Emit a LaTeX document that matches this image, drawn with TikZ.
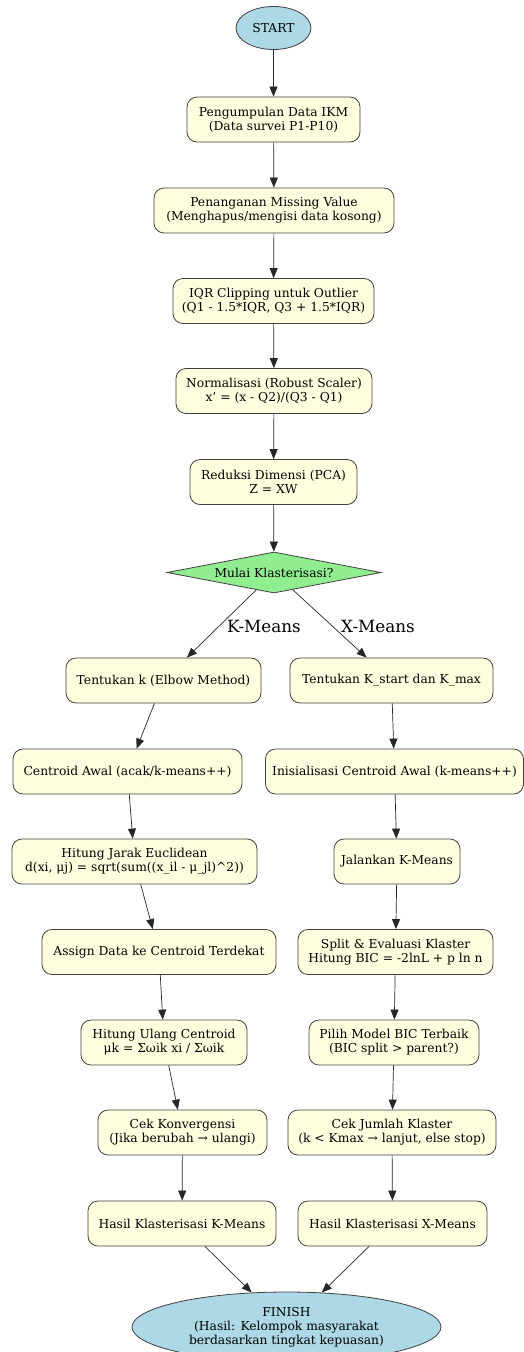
\documentclass[tikz,border=0pt]{standalone}
\usepackage{fontspec}
\setmainfont{DejaVu Serif}
\usetikzlibrary{shapes.geometric,arrows.meta}
\definecolor{boxfill}{HTML}{FFFFE0}
\definecolor{termfill}{HTML}{ADD8E6}
\definecolor{decfill}{HTML}{90EE90}
\begin{document}
\begin{tikzpicture}[x=1pt,y=-1pt,
  base/.style={draw=black!75, line width=0.8pt, align=center, inner sep=0pt, font=\fontsize{12.3}{14}\selectfont},
  box/.style={base, fill=boxfill, rounded corners=10pt, minimum height=45pt},
  term/.style={base, ellipse, fill=termfill},
  dec/.style={base, diamond, shape aspect=5.2, fill=decfill},
  arr/.style={draw=black!85, line width=0.7pt, -{Triangle[length=10pt,width=8pt]}},
  elabel/.style={font=\fontsize{16.8}{19}\selectfont, inner sep=0pt}
]
\useasboundingbox (0,0) rectangle (523,1352);
\node[term, minimum width=75pt, minimum height=43pt] (start) at (273.5,28) {START};
\node[box, minimum width=173pt] (b1) at (273.5,119.5) {Pengumpulan Data IKM\\(Data survei P1-P10)};
\node[box, minimum width=240pt] (b2) at (274,210.5) {Penanganan Missing Value\\(Menghapus/mengisi data kosong)};
\node[box, minimum width=201pt] (b3) at (273.5,301) {IQR Clipping untuk Outlier\\(Q1 - 1.5*IQR, Q3 + 1.5*IQR)};
\node[box, minimum width=196pt] (b4) at (274,391) {Normalisasi (Robust Scaler)\\x' = (x - Q2)/(Q3 - Q1)};
\node[box, minimum width=167pt] (b5) at (273.5,482) {Reduksi Dimensi (PCA)\\Z = XW};
\node[dec, minimum width=214pt, minimum height=41pt] (d) at (274,572.5) {Mulai Klasterisasi?};
% K-Means branch
\node[box, minimum width=195pt] (k1) at (163.5,680.5) {Tentukan k (Elbow Method)};
\node[box, minimum width=229pt] (k2) at (127.5,771.5) {Centroid Awal (acak/k-means++)};
\node[box, minimum width=245pt] (k3) at (134.5,861.5) {Hitung Jarak Euclidean\\d(xi, μj) = sqrt(sum((x\_il - μ\_jl)\^{}2))};
\node[box, minimum width=234pt] (k4) at (159,952) {Assign Data ke Centroid Terdekat};
\node[box, minimum width=166pt] (k5) at (164,1042.5) {Hitung Ulang Centroid\\μk = Σωik xi / Σωik};
\node[box, minimum width=169pt] (k6) at (182.5,1132.5) {Cek Konvergensi\\(Jika berubah → ulangi)};
\node[box, minimum width=188pt] (k7) at (182,1223.5) {Hasil Klasterisasi K-Means};
% X-Means branch
\node[box, minimum width=203pt] (x1) at (391.5,680.5) {Tentukan K\_start dan K\_max};
\node[box, minimum width=258pt] (x2) at (394.5,771.5) {Inisialisasi Centroid Awal (k-means++)};
\node[box, minimum width=126pt] (x3) at (397,861.5) {Jalankan K-Means};
\node[box, minimum width=195pt] (x4) at (395.5,952) {Split \& Evaluasi Klaster\\Hitung BIC = -2lnL + p ln n};
\node[box, minimum width=170pt] (x5) at (394,1042.5) {Pilih Model BIC Terbaik\\(BIC split > parent?)};
\node[box, minimum width=208pt] (x6) at (392,1132.5) {Cek Jumlah Klaster\\(k < Kmax → lanjut, else stop)};
\node[box, minimum width=189pt] (x7) at (392.5,1223.5) {Hasil Klasterisasi X-Means};
\node[term, minimum width=309pt, minimum height=70pt] (fin) at (286.5,1327) {FINISH\\(Hasil: Kelompok masyarakat\\berdasarkan tingkat kepuasan)};
% edges
\draw[arr] (start) -- (b1);
\draw[arr] (b1) -- (b2);
\draw[arr] (b2) -- (b3);
\draw[arr] (b3) -- (b4);
\draw[arr] (b4) -- (b5);
\draw[arr] (b5) -- (d);
\draw[arr] (d) -- (k1);
\draw[arr] (d) -- (x1);
\draw[arr] (k1) -- (k2);
\draw[arr] (k2) -- (k3);
\draw[arr] (k3) -- (k4);
\draw[arr] (k4) -- (k5);
\draw[arr] (k5) -- (k6);
\draw[arr] (k6) -- (k7);
\draw[arr] (x1) -- (x2);
\draw[arr] (x2) -- (x3);
\draw[arr] (x3) -- (x4);
\draw[arr] (x4) -- (x5);
\draw[arr] (x5) -- (x6);
\draw[arr] (x6) -- (x7);
\draw[arr] (k7) -- (fin);
\draw[arr] (x7) -- (fin);
\node[elabel] (lk) at (264,626) {K-Means};
\node[elabel] (lx) at (378,626) {X-Means};
\end{tikzpicture}
\end{document}
